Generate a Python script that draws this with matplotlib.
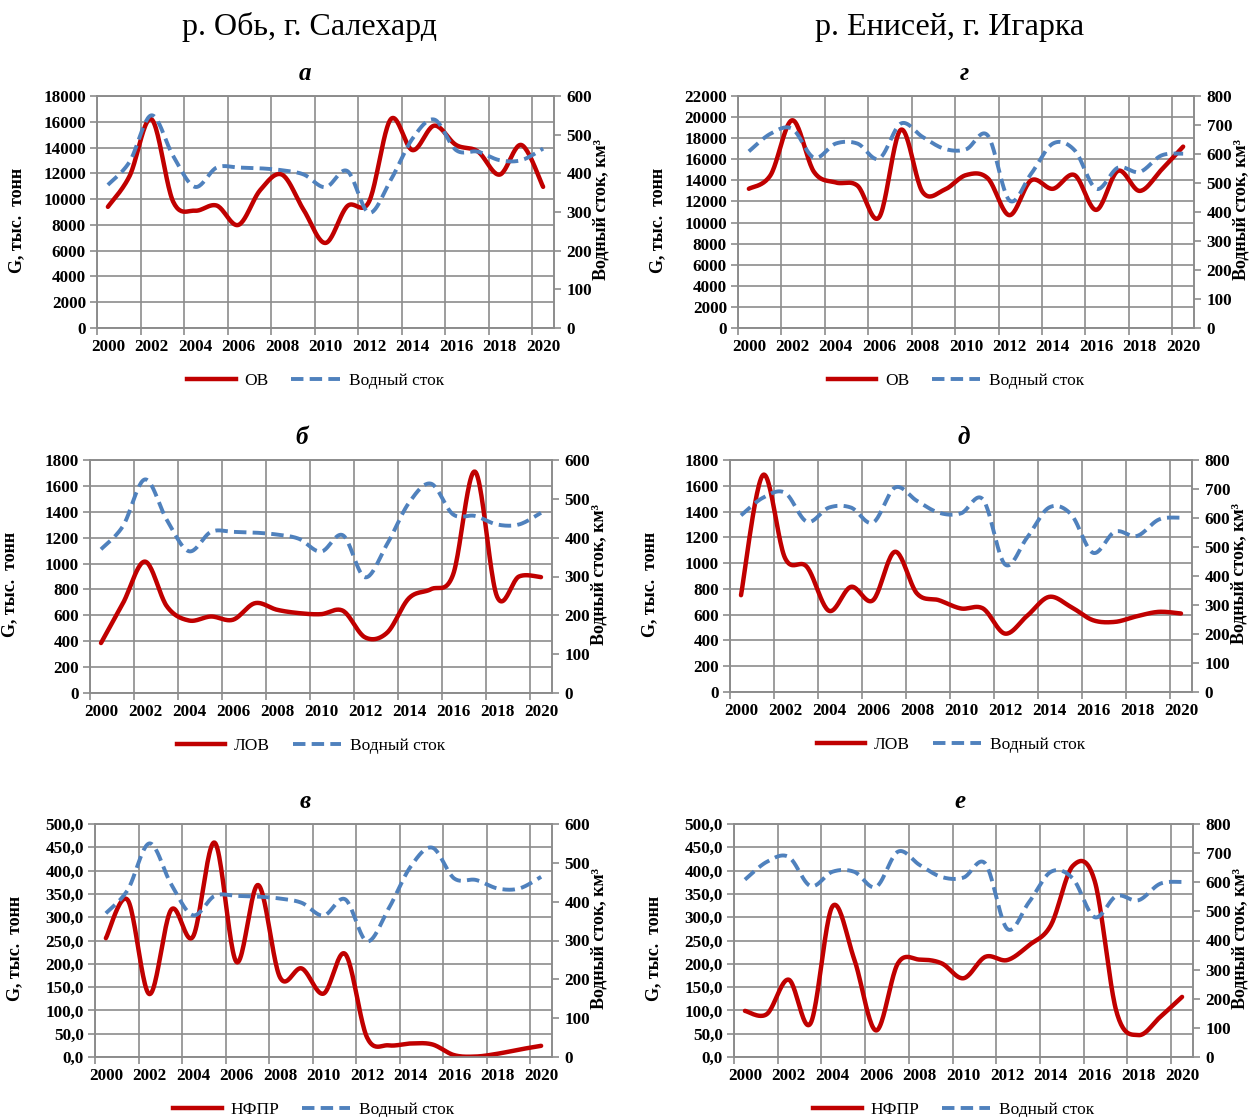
import matplotlib
matplotlib.use('Agg')
import matplotlib.pyplot as plt
from matplotlib.lines import Line2D
import numpy as np

plt.rcParams['font.family'] = ['Liberation Serif', 'DejaVu Serif']

# data
years = list(range(2000, 2021))

# water discharge, km3
ob_flow = [370, 430, 550, 445, 365, 415, 415, 413, 408, 397, 364, 406,
           298, 383, 490, 539, 460, 456, 434, 434, 464]
yen_flow = [609, 670, 687, 587, 636, 636, 584, 705, 659, 618, 616, 664,
            440, 532, 636, 613, 480, 553, 538, 595, 601]

# G, thousand tons
ob_ov = [9400, 11800, 16200, 9800, 9100, 9500, 8000, 10700, 11900, 9150, 6600,
         9450, 9800, 16200, 13800, 15700, 14200, 13700, 11900, 14200, 10950]
ob_lov = [386, 694, 1015, 668, 560, 591, 566, 694, 643, 617, 609, 635,
          430, 465, 733, 802, 913, 1710, 746, 900, 895]
ob_nfpr = [255, 337, 135, 316, 258, 460, 204, 369, 171, 190, 136, 221,
           42, 25, 29, 27, 4, 1, 7, 16, 24]

yen_ov = [13200, 14500, 19700, 14800, 13800, 13500, 10500, 18800, 12900, 13100,
          14500, 14200, 10700, 14000, 13200, 14500, 11200, 14900, 13000, 15000, 17200]
yen_lov = [751, 1684, 1040, 970, 630, 816, 712, 1088, 764, 712, 648, 648,
           453, 590, 738, 660, 557, 544, 588, 622, 609]
yen_nfpr = [99, 92, 166, 72, 323, 210, 57, 201, 209, 201, 169, 215,
            208, 240, 283, 410, 378, 97, 47, 86, 129]

RED = '#C00000'
BLUE = '#4F81BD'
GRID = '#8c8c8c'
W, H = 1250, 1117


def smooth(x, y, n=24):
    # Excel-style smoothed line (Catmull-Rom as cubic Bezier)
    x = np.asarray(x, float)
    y = np.asarray(y, float)
    px = np.concatenate([[x[0]], x, [x[-1]]])
    py = np.concatenate([[y[0]], y, [y[-1]]])
    t = np.linspace(0, 1, n, endpoint=False)[:, None]
    out = []
    for i in range(1, len(px) - 2):
        p0 = np.array([px[i - 1], py[i - 1]])
        p1 = np.array([px[i], py[i]])
        p2 = np.array([px[i + 1], py[i + 1]])
        p3 = np.array([px[i + 2], py[i + 2]])
        b1 = p1 + (p2 - p0) / 6
        b2 = p2 - (p3 - p1) / 6
        seg = ((1 - t) ** 3) * p1 + 3 * ((1 - t) ** 2) * t * b1 + \
            3 * (1 - t) * t ** 2 * b2 + t ** 3 * p2
        out.append(seg)
    out.append(np.array([[px[-2], py[-2]]]))
    out = np.vstack(out)
    return out[:, 0], out[:, 1]


def fx(px):
    return px / W


def fy(py):
    return 1 - py / H


def panel(box, g, flow, gmax, gstep, fmax, letter, letter_x, name, comma=False):
    l, t, r, b = box
    ax = fig.add_axes([fx(l), fy(b), (r - l) / W, (b - t) / H])
    ax2 = ax.twinx()

    sx, sy = smooth(years, g)
    ax.plot(sx, sy, color=RED, lw=3.2, solid_capstyle='round', zorder=3)
    fxs, fys = smooth(years, flow)
    ax2.plot(fxs, fys, color=BLUE, lw=2.8, dashes=(3.2, 1.6), zorder=3)

    ax.set_xlim(1999.5, 2020.5)
    ax.set_ylim(0, gmax)
    ax2.set_ylim(0, fmax)

    ax.set_xticks(range(2000, 2021, 2))
    ax.set_xticks(np.arange(1999.5, 2020.5, 2), minor=True)
    ax.tick_params(axis='x', which='major', length=0, pad=8)
    ax.tick_params(axis='x', which='minor', length=5, width=1.2, color=GRID)

    yt = np.arange(0, gmax + gstep / 2, gstep)
    ax.set_yticks(yt)
    if comma:
        ax.set_yticklabels([('%.1f' % v).replace('.', ',') for v in yt])
    else:
        ax.set_yticklabels(['%d' % v for v in yt])
    ax.tick_params(axis='y', length=5, width=1.2, color=GRID, pad=3)
    ax2.set_yticks(np.arange(0, fmax + 1, 100))
    ax2.tick_params(axis='y', length=5, width=1.2, color=GRID, pad=4)

    for a in (ax, ax2):
        for lab in a.get_xticklabels() + a.get_yticklabels():
            lab.set_fontweight('bold')
            lab.set_fontsize(12.3)
        for s in a.spines.values():
            s.set_color(GRID)
            s.set_linewidth(1.2)

    ax.grid(True, axis='y', which='major', color=GRID, lw=1.2)
    ax.grid(True, axis='x', which='minor', color=GRID, lw=1.2)
    ax.set_axisbelow(True)

    cx = (l + r) / 2
    fig.text(fx(letter_x), fy(t - 23), letter, ha='center', va='center',
             fontsize=18, fontweight='bold', fontstyle='italic')
    fig.text(fx(l - 80), fy((t + b) / 2 + 8), 'G, тыс.  тонн', rotation=90,
             ha='center', va='center', fontsize=13, fontweight='bold')
    fig.text(fx(r + 47), fy((t + b) / 2 - 2), 'Водный сток, км³', rotation=90,
             ha='center', va='center', fontsize=13, fontweight='bold')

    handles = [Line2D([], [], color=RED, lw=3.2),
               Line2D([], [], color=BLUE, lw=2.8, dashes=(3.2, 1.6))]
    fig.legend(handles, [name, 'Водный сток'], loc='center',
               bbox_to_anchor=(fx(cx - 10), fy(b + 53)), ncol=2, frameon=False,
               fontsize=12.5, handlelength=2.8, columnspacing=1.3,
               handletextpad=0.5)
    return ax


fig = plt.figure(figsize=(12.5, 11.17), dpi=100)

fig.text(fx(310), fy(27), 'р. Обь, г. Салехард', ha='center', va='center', fontsize=23)
fig.text(fx(950), fy(27), 'р. Енисей, г. Игарка', ha='center', va='center', fontsize=23)

panel((97, 96, 554, 328), ob_ov, ob_flow, 18000, 2000, 600, 'а', 305, 'ОВ')
panel((738, 96, 1194, 328), yen_ov, yen_flow, 22000, 2000, 800, 'г', 964, 'ОВ')
panel((90, 460, 552, 693), ob_lov, ob_flow, 1800, 200, 600, 'б', 302, 'ЛОВ')
panel((730, 460, 1192, 692), yen_lov, yen_flow, 1800, 200, 800, 'д', 964, 'ЛОВ')
panel((95, 824, 552, 1057), ob_nfpr, ob_flow, 500, 50, 600, 'в', 305, 'НФПР', comma=True)
panel((734, 824, 1193, 1057), yen_nfpr, yen_flow, 500, 50, 800, 'е', 960, 'НФПР', comma=True)

fig.savefig('out.png', dpi=100)
